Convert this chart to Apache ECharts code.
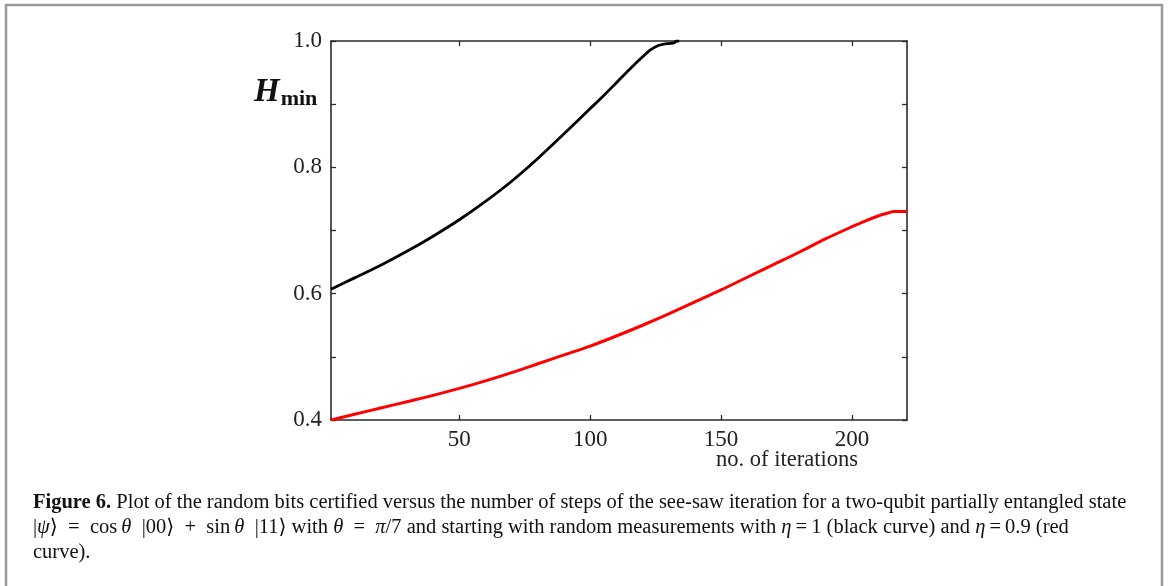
<!DOCTYPE html>
<html>
<head>
<meta charset="utf-8">
<script src="https://cdn.jsdelivr.net/npm/echarts@6/dist/echarts.min.js"></script>
<style>
  html, body { margin: 0; padding: 0; background: #fff; }
  #container { width: 1168px; height: 586px; }
</style>
</head>
<body>
<div id="container"></div>
<script>
// data
var blackIter = [1, 10, 20, 30, 40, 50, 60, 70, 80, 90, 100, 105, 110, 115, 120, 123, 126, 128, 130, 132, 133, 134];
var blackHmin = [0.607, 0.625, 0.645, 0.667, 0.691, 0.717, 0.746, 0.778, 0.814, 0.853, 0.893, 0.913, 0.934, 0.955, 0.975, 0.986, 0.993, 0.995, 0.996, 0.997, 1.0, 1.0];

var redIter = [1, 10, 20, 30, 40, 50, 60, 70, 80, 90, 100, 110, 120, 130, 140, 150, 160, 170, 180, 190, 200, 205, 210, 214, 216, 221];
var redHmin = [0.400, 0.409, 0.419, 0.429, 0.439, 0.450, 0.462, 0.475, 0.489, 0.503, 0.517, 0.533, 0.550, 0.568, 0.587, 0.606, 0.626, 0.646, 0.666, 0.687, 0.706, 0.715, 0.723, 0.728, 0.730, 0.730];

var xTicks = [50, 100, 150, 200];
var yTicks = [0.4, 0.5, 0.6, 0.7, 0.8, 0.9, 1.0];
var yLabels = [0.4, 0.6, 0.8, 1.0];

var serif = "'Liberation Serif', 'DejaVu Serif', serif";

function pairs(xs, ys) {
   var out = [];
   for (var i = 0; i < xs.length; i++) out.push([xs[i], ys[i]]);
   return out;
}

var dom = document.getElementById('container');
var myChart = echarts.init(dom, null, { renderer: 'canvas' });

var axisLine = { show: true, lineStyle: { color: '#2a2a2a', width: 1.6 } };
var tickStyle = { color: '#2a2a2a', width: 1.3 };
var capSize = 20.5;

// math spacing in the caption
var en = '\u2002', th = '\u2009';
var line2 = '|{i|ψ}⟩' + en + '=' + en + 'cos' + th + '{i|θ}' + en + '|00⟩' + en + '+' + en + 'sin' + th + '{i|θ}' + en + '|11⟩ with {i|θ}' + en + '=' + en + '{i|π}/7' +
   ' and starting with random measurements with {i|η}' + th + '=' + th + '1 (black curve) and {i|η}' + th + '=' + th + '0.9 (red';

var option = {
   animation: false,
   grid: { left: 331, right: 261, top: 41, bottom: 166 },
   xAxis: [
      {
         type: 'value', min: 1, max: 221, position: 'bottom',
         axisLine: axisLine,
         axisTick: { show: true, inside: true, length: 5, customValues: xTicks, lineStyle: tickStyle },
         axisLabel: { customValues: xTicks, margin: 8, fontFamily: serif, fontSize: 23, color: '#222' },
         splitLine: { show: false }
      },
      {
         type: 'value', min: 1, max: 221, position: 'top',
         axisLine: axisLine,
         axisTick: { show: true, inside: true, length: 5, customValues: xTicks, lineStyle: tickStyle },
         axisLabel: { show: false },
         splitLine: { show: false }
      }
   ],
   yAxis: [
      {
         type: 'value', min: 0.4, max: 1.0, position: 'left',
         axisLine: axisLine,
         axisTick: { show: true, inside: true, length: 5, customValues: yTicks, lineStyle: tickStyle },
         axisLabel: {
            customValues: yLabels, margin: 9, fontFamily: serif, fontSize: 23, color: '#222',
            formatter: function (v) { return v.toFixed(1); }
         },
         splitLine: { show: false }
      },
      {
         type: 'value', min: 0.4, max: 1.0, position: 'right',
         axisLine: axisLine,
         axisTick: { show: true, inside: true, length: 5, customValues: yTicks, lineStyle: tickStyle },
         axisLabel: { show: false },
         splitLine: { show: false }
      }
   ],
   series: [
      {
         name: 'eta=1', type: 'line', smooth: 0.3, showSymbol: false,
         lineStyle: { color: '#000', width: 2.8 },
         data: pairs(blackIter, blackHmin)
      },
      {
         name: 'eta=0.9', type: 'line', smooth: 0.3, showSymbol: false,
         lineStyle: { color: '#ff0000', width: 3 },
         data: pairs(redIter, redHmin)
      }
   ],
   graphic: [
      {
         type: 'rect', silent: true,
         shape: { x: 6, y: 5, width: 1156, height: 620 },
         style: { fill: 'none', stroke: '#9a9a9a', lineWidth: 2.5 }
      },
      {
         type: 'text', left: 254, top: 76,
         style: {
            text: '{h|H}{s|min}',
            rich: {
               h: { fontFamily: serif, fontSize: 33, fontStyle: 'italic', fontWeight: 'bold', fill: '#111' },
               s: { fontFamily: serif, fontSize: 22, fontWeight: 'bold', fill: '#111', padding: [14, 0, 0, 1] }
            }
         }
      },
      {
         type: 'text', x: 787, y: 460,
         style: { text: 'no. of iterations', fontFamily: serif, fontSize: 22.5, fill: '#222', align: 'center', verticalAlign: 'middle' }
      },
      {
         type: 'text', x: 33, y: 503,
         style: {
            text: '{b|Figure 6.} Plot of the random bits certified versus the number of steps of the see-saw iteration for a two-qubit partially entangled state',
            fontFamily: serif, fontSize: capSize, fill: '#111', verticalAlign: 'middle',
            rich: { b: { fontFamily: serif, fontSize: capSize, fontWeight: 'bold', fill: '#111' } }
         }
      },
      {
         type: 'text', x: 33, y: 528,
         style: {
            text: line2,
            fontFamily: serif, fontSize: capSize, fill: '#111', verticalAlign: 'middle',
            rich: { i: { fontFamily: serif, fontSize: capSize, fontStyle: 'italic', fill: '#111' } }
         }
      },
      {
         type: 'text', x: 33, y: 553,
         style: { text: 'curve).', fontFamily: serif, fontSize: capSize, fill: '#111', verticalAlign: 'middle' }
      }
   ]
};

myChart.setOption(option);
window.addEventListener('resize', myChart.resize);
</script>
</body>
</html>
